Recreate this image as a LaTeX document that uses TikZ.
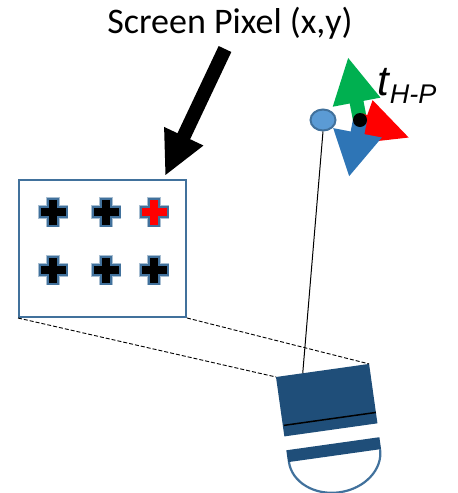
\documentclass[tikz,border=0pt]{standalone}
\usepackage{fontspec}
\setmainfont{Carlito}
\newfontfamily\labelfont{Liberation Sans}
\usetikzlibrary{arrows.meta,shapes.geometric}

\definecolor{edgeblue}{HTML}{41719C}
\definecolor{camblue}{HTML}{1F4E79}
\definecolor{jointblue}{HTML}{5B9BD5}
\definecolor{axisgreen}{HTML}{00B050}
\definecolor{axisred}{HTML}{FF0000}
\definecolor{axisblue}{HTML}{2E75B6}

\begin{document}
\begin{tikzpicture}[x=1pt,y=-1pt,
        pointer/.style={line width=14pt,-{Triangle[length=44pt,width=40pt]}},
        axis/.style={line width=14pt},
        proj/.style={dash pattern=on 4pt off 2pt,line width=0.9pt},
        pixcross/.style={draw=edgeblue,line width=2pt,
            preaction={draw=edgeblue!45,line width=3.5pt}}]
    \useasboundingbox (0,0) rectangle (458,493);

    \node[anchor=base,font=\fontsize{36pt}{36pt}\selectfont] (title) at (230,33) {Screen Pixel (x,y)};

    % screen with its pixels
    \node[draw=edgeblue,line width=2pt,minimum width=167pt,minimum height=137pt,inner sep=0pt]
        (screen) at (102.5,248.5) {};
    \foreach \px/\py/\pc in {53/212/black,106/212/black,154/212/red,
                             53/270/black,106/270/black,154/270/black}
        \filldraw[pixcross,fill=\pc,shift={(\px,\py)}]
            (-5,-13.5) -- (5,-13.5) -- (5,-5) -- (13.5,-5) -- (13.5,5) -- (5,5)
            -- (5,13.5) -- (-5,13.5) -- (-5,5) -- (-13.5,5) -- (-13.5,-5) -- (-5,-5) -- cycle;

    \coordinate (ptrtail) at (225,49);
    \coordinate (ptrtip) at (165,176);
    \draw[pointer] (ptrtail) -- (ptrtip);

    % camera, tilted
    \begin{scope}[shift={(276,377)},rotate=8]
        \fill[camblue] (0,0) rectangle (94,60);
        \fill[camblue] (0,74) rectangle (94,86);
        \draw[line width=1.5pt] (1,49) -- (94,49);
        \draw[edgeblue,line width=2.2pt] (1,86) .. controls (1,106.4) and (21.6,123) .. (47,123)
            .. controls (72.4,123) and (93,106.4) .. (93,86);
        \coordinate (camleft) at (0,0);
        \coordinate (camright) at (94,0);
        \coordinate (camtop) at (27,0);
    \end{scope}

    \draw[proj] (screen.south west) -- (camleft);
    \draw[proj] (screen.south east) -- (camright);

    % head frame
    \node[ellipse,draw=edgeblue,fill=jointblue,line width=2pt,minimum width=25pt,
        minimum height=21pt,inner sep=0pt] (joint) at (323,120) {};
    \draw[line width=1pt] (joint.south) -- (camtop);

    \coordinate (origin) at (360,120);
    \coordinate (tipup) at (348,57);
    \coordinate (tipright) at (410,138);
    \coordinate (tipdown) at (349,177);
    \draw[axis,axisgreen,-{Triangle[length=46pt,width=45pt]}] (origin) -- (tipup);
    \draw[axis,axisred,-{Triangle[length=48pt,width=42pt]}] (origin) -- (tipright);
    \draw[axis,axisblue,-{Triangle[length=45pt,width=46pt]}] (origin) -- (tipdown);
    \node[circle,fill=black,minimum size=14pt,inner sep=0pt] (dot) at (origin) {};

    \node[anchor=base west,inner sep=0pt] (tlabel) at (377,95)
        {\labelfont\itshape\fontsize{42pt}{42pt}\selectfont t\kern1pt\raisebox{-8pt}{\fontsize{27pt}{27pt}\selectfont H-P}};
\end{tikzpicture}
\end{document}
